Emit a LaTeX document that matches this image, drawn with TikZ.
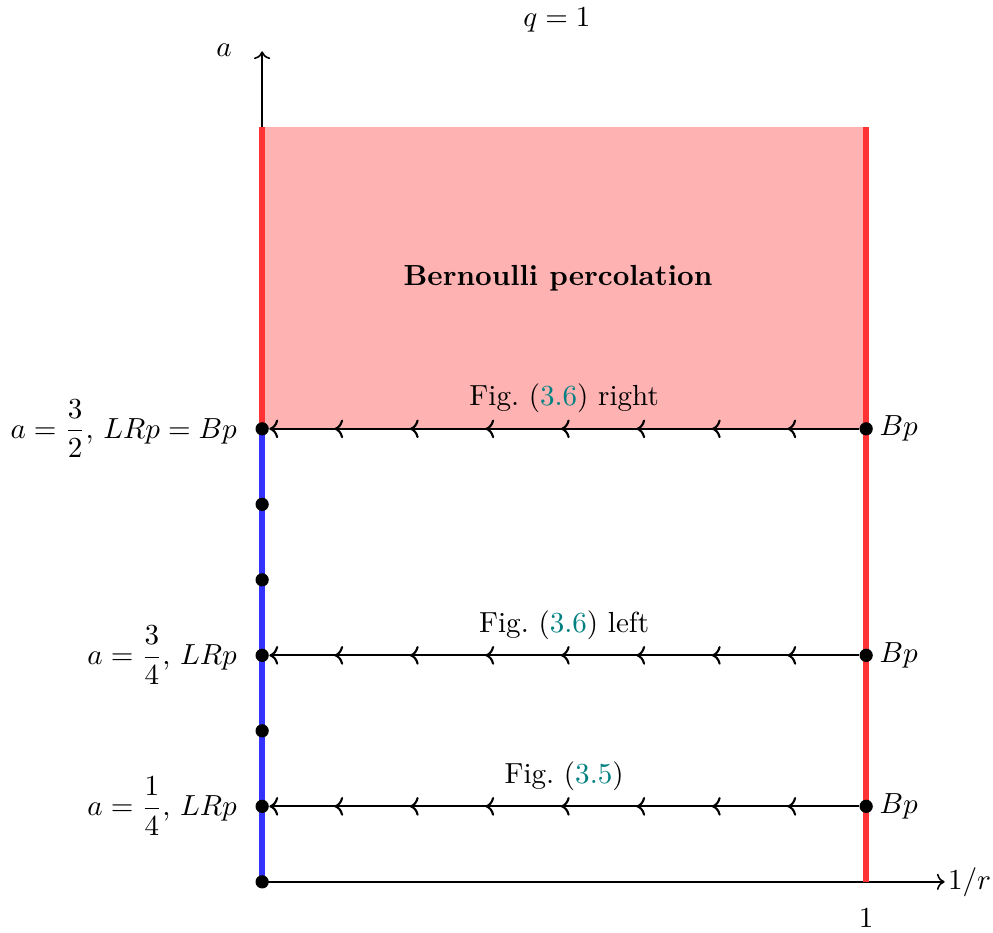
\documentclass[tikz,border=0pt,11pt]{standalone}
\usepackage{tikz}
\usetikzlibrary{positioning,arrows.meta,calc,decorations.markings}
\usepackage{amsmath}
\definecolor{bernred}{RGB}{255,51,51}
\definecolor{bernpink}{RGB}{255,178,178}
\definecolor{lrblue}{RGB}{51,51,255}
\definecolor{linkteal}{RGB}{0,128,128}

\tikzset{
  pt/.style={circle,fill=black,inner sep=0pt,minimum size=5pt},
  flowline/.style={thick,->,postaction={decorate},
    decoration={markings,mark=between positions 0.95cm and 7cm step 1cm with {\arrow{>}}}},
}
\newcommand{\figref}[1]{Fig.~(\textcolor{linkteal}{#1})}

\begin{document}
\begin{tikzpicture}[x=8cm,y=4cm]
  \useasboundingbox (-0.434,-0.169) rectangle (1.21,2.92);
  % region of Bernoulli percolation
  \fill[bernpink] (0,1.5) rectangle (1,2.5);
  \draw[semithick,->] (0,0) -- (0,2.75);
  \draw[semithick,->] (0,0) -- (1.13,0) node[right,inner sep=1pt] {$1/r$};
  \draw[line width=2.2pt,bernred] (1,0) -- (1,2.5);
  \draw[line width=2.2pt,bernred] (0,1.5) -- (0,2.5);
  \draw[line width=2.2pt,lrblue] (0,0) -- (0,1.5);
  \node at (-0.063,2.755) {$a$};
  \node at (0.488,2.855) {$q=1$};
  \node at (1,-0.12) {$1$};
  \node[font=\bfseries] at (0.49,2) {Bernoulli percolation};
  % points on the axis a
  \foreach \i in {0,...,6}
    \node[pt] (L\i) at (0,\i/4) {};
  \node[pt] (R1) at (1,0.25) {};
  \node[pt] (R3) at (1,0.75) {};
  \node[pt] (R6) at (1,1.5) {};
  \node[left=3pt of L6] {$a=\dfrac{3}{2}$, $LRp=Bp$};
  \node[left=3pt of L3] {$a=\dfrac{3}{4}$, $LRp$};
  \node[left=3pt of L1] {$a=\dfrac{1}{4}$, $LRp$};
  \foreach \j in {1,3,6}
    \node[right=-1.5pt of R\j] {$Bp$};
  % flows
  \draw[flowline] (R6) -- (L6);
  \draw[flowline] (R3) -- (L3);
  \draw[flowline] (R1) -- (L1);
  \node at (0.5,1.6) {\figref{3.6} right};
  \node at (0.5,0.85) {\figref{3.6} left};
  \node at (0.5,0.35) {\figref{3.5}};
\end{tikzpicture}
\end{document}
